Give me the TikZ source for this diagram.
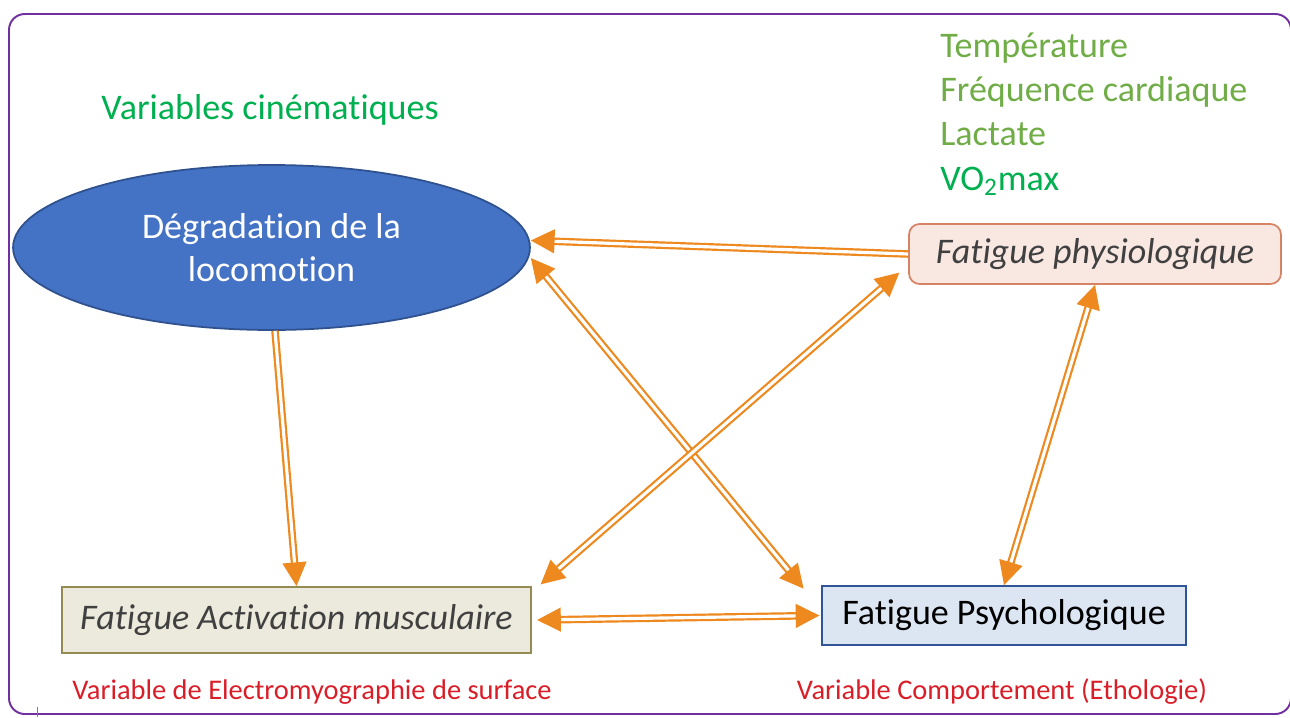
\documentclass[tikz,border=0pt]{standalone}
\usepackage{fontspec}
\setmainfont{Carlito}[Ligatures={NoCommon}, RawFeature=-calt]
\usetikzlibrary{arrows.meta,shapes.geometric,calc}
\definecolor{framepurple}{RGB}{112,48,160}
\definecolor{ellfill}{RGB}{68,114,196}
\definecolor{ellborder}{RGB}{47,82,143}
\definecolor{arrorange}{RGB}{237,137,30}
\definecolor{physfill}{RGB}{249,231,226}
\definecolor{physborder}{RGB}{214,130,100}
\definecolor{actfill}{RGB}{236,234,220}
\definecolor{actborder}{RGB}{148,138,84}
\definecolor{psyfill}{RGB}{220,230,242}
\definecolor{psyborder}{RGB}{47,85,151}
\definecolor{labred}{RGB}{218,30,40}
\definecolor{brightgreen}{RGB}{0,176,80}
\definecolor{olivegreen}{RGB}{112,173,71}
\definecolor{darktext}{RGB}{64,64,64}
\tikzset{
  bigfont/.style={font=\fontsize{20.5}{24}\selectfont},
  redlab/.style={font=\fontsize{16.2}{19}\selectfont, text=labred},
  boxnode/.style={draw, line width=1pt, inner sep=0pt, bigfont},
  dblarrow/.style={draw=arrorange, line width=1.25pt, double=white, double distance=1.8pt,
    -{Triangle[length=13.5pt,width=13.5pt]}},
  dblboth/.style={dblarrow, {Triangle[length=13.5pt,width=13.5pt]}-{Triangle[length=13.5pt,width=13.5pt]}}
}
\begin{document}
\begin{tikzpicture}[x=0.02cm,y=-0.02cm]
\useasboundingbox (0,0) rectangle (1290,717);
\fill[white] (0,0) rectangle (1290,717);
% frame
\draw[framepurple, line width=1.1pt, rounded corners=9pt] (9,14) rectangle (1291,714);
\draw[gray, line width=0.5pt] (37,707) -- (37,717);

% nodes
\node[ellipse, draw=ellborder, line width=1pt, fill=ellfill, minimum width=10.34cm, minimum height=3.3cm,
      inner sep=0pt, text=white, align=center, bigfont] (ell) at (271.5,247.5)
      {Dégradation de la\\[0.5pt]locomotion};
\node[boxnode, draw=physborder, fill=physfill, rounded corners=6pt, minimum width=7.44cm, minimum height=1.2cm,
      text=darktext, font=\fontsize{20.5}{24}\selectfont\itshape] (phys) at (1095,254) {Fatigue physiologique};
\node[boxnode, draw=actborder, fill=actfill, minimum width=9.38cm, minimum height=1.32cm,
      text=darktext, font=\fontsize{20.5}{24}\selectfont\itshape] (act) at (296.5,620) {Fatigue Activation musculaire};
\node[boxnode, draw=psyborder, fill=psyfill, minimum width=7.28cm, minimum height=1.18cm,
      text=black] (psy) at (1004,615.5) {Fatigue Psychologique};

% labels
\node[bigfont, text=brightgreen] (cin) at (270,110) {Variables cinématiques};
\node[bigfont, text=olivegreen, anchor=base west, inner sep=0pt] (temp) at (940,57) {Température};
\node[bigfont, text=olivegreen, anchor=base west, inner sep=0pt] (freq) at (940,101) {Fréquence cardiaque};
\node[bigfont, text=olivegreen, anchor=base west, inner sep=0pt] (lact) at (940,145) {Lactate};
\node[bigfont, text=brightgreen, anchor=base west, inner sep=0pt] (vo2) at (940,190) {VO\textsubscript{2}max};
\node[redlab] (emg) at (312,692) {Variable de Electromyographie de surface};
\node[redlab] (etho) at (1002,692) {Variable Comportement (Ethologie)};

% connectors
\draw[dblarrow] (phys.west) -- ([yshift=4pt]ell.east);
\draw[dblarrow] ([xshift=2pt]ell.south) -- (act.north);
\draw[dblboth] ([yshift=-6pt]ell.east) -- ([xshift=-10pt,yshift=-2pt]psy.north west);
\draw[dblboth] ([xshift=5pt,yshift=1pt]act.north east) -- ([xshift=-5pt,yshift=7pt]phys.south west);
\draw[dblboth] ([xshift=3pt]act.east) -- ([xshift=-1pt]psy.west);
\draw[dblboth] (phys.south) -- (psy.north);
\end{tikzpicture}
\end{document}
